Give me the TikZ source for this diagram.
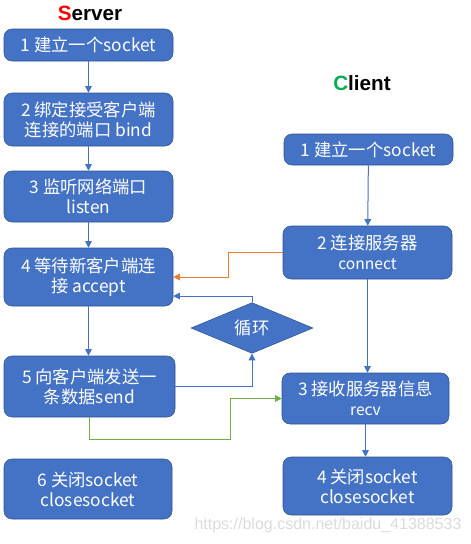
\documentclass[tikz,border=0pt]{standalone}
\usepackage{fontspec}
\setmainfont{Noto Sans CJK SC}
\newfontfamily\titlefont{Liberation Sans}
\usetikzlibrary{shapes.geometric,arrows.meta}
\definecolor{sockblue}{RGB}{68,114,196}
\definecolor{sockedge}{RGB}{47,82,143}
\definecolor{sockorange}{RGB}{237,125,49}
\definecolor{sockgreen}{RGB}{112,173,71}
\definecolor{sockred}{RGB}{255,0,0}
\definecolor{sockcgreen}{RGB}{0,176,80}

\begin{document}
\begin{tikzpicture}[x=0.75pt,y=-0.75pt,
    stepbox/.style={draw=sockedge, fill=sockblue, rounded corners=6pt, text=white, align=center, inner sep=0pt, font=\fontsize{13}{15}\selectfont},
    flow/.style={draw=sockblue, line width=0.75pt, -{Triangle[length=5pt,width=5pt]}}]
    \useasboundingbox (0,0) rectangle (471,544);

    % Titles
    \node[font=\titlefont\bfseries\fontsize{15.5}{18}\selectfont] (srvtitle) at (90,13) {\textcolor{sockred}{S}erver};
    \node[font=\titlefont\bfseries\fontsize{15.5}{18}\selectfont] (clititle) at (362,83) {\textcolor{sockcgreen}{C}lient};

    % Server
    \node[stepbox, minimum width=126.75pt, minimum height=24pt] (s1) at (88.5,45) {1 建立一个socket};
    \node[stepbox, minimum width=126.75pt, minimum height=39.75pt] (s2) at (88.5,119.5) {2 绑定接受客户端\\连接的端口 bind};
    \node[stepbox, minimum width=126.75pt, minimum height=38.25pt] (s3) at (88.5,196.5) {3 监听网络端口\\listen};
    \node[stepbox, minimum width=126.75pt, minimum height=43.5pt] (s4) at (88.5,277) {4 等待新客户端连\\接 accept};
    \node[stepbox, minimum width=128.25pt, minimum height=45.75pt] (s5) at (89.5,386.5) {5 向客户端发送一\\条数据send};
    \node[stepbox, minimum width=126pt, minimum height=45pt] (s6) at (88,489) {6 关闭socket\\closesocket};

    % Loop
    \node[draw=sockedge, fill=sockblue, diamond, text=white, inner sep=0pt, minimum width=91.5pt, minimum height=34.5pt, font=\fontsize{13}{15}\selectfont] (loop) at (252,328) {循环};

    % Client
    \node[stepbox, minimum width=126.75pt, minimum height=23.25pt] (c1) at (368.5,149.5) {1 建立一个socket};
    \node[stepbox, minimum width=126.75pt, minimum height=39.75pt] (c2) at (367.5,252.5) {2 连接服务器\\{\fontsize{11.7}{13}\selectfont connect}};
    \node[stepbox, minimum width=125.25pt, minimum height=38.25pt] (c3) at (365.5,398.5) {3 接收服务器信息\\{\fontsize{11.7}{13}\selectfont recv}};
    \node[stepbox, minimum width=126.75pt, minimum height=43.5pt] (c4) at (367.5,486) {4 关闭socket\\closesocket};

    % Watermark
    \node[font=\titlefont\fontsize{12}{14}\selectfont, text=black!14] (mark) at (328,525) {https://blog.csdn.net/baidu\_41388533};

    % Arrows
    \draw[flow] (s1) -- (s2);
    \draw[flow] (s2) -- (s3);
    \draw[flow] (s3) -- (s4);
    \draw[flow] (s4.south) -- (s4.south |- s5.north);
    \draw[flow] (c1) -- (c2);
    \draw[flow] (c2.south) -- (c2.south |- c3.north);
    \draw[flow] (c3.south) -- (c3.south |- c4.north);
    \coordinate (obend) at (228,252.5);
    \coordinate (gbend) at (230,439);
    \draw[flow, draw=sockorange] (c2.west) -- (obend) |- (s4.east);
    \draw[flow] (loop.north) |- ([yshift=-14.25pt]s4.east);
    \draw[flow] (s5.east) -| (loop.south);
    \draw[flow, draw=sockgreen] (s5.south) |- (gbend) |- (c3.west);
\end{tikzpicture}
\end{document}
